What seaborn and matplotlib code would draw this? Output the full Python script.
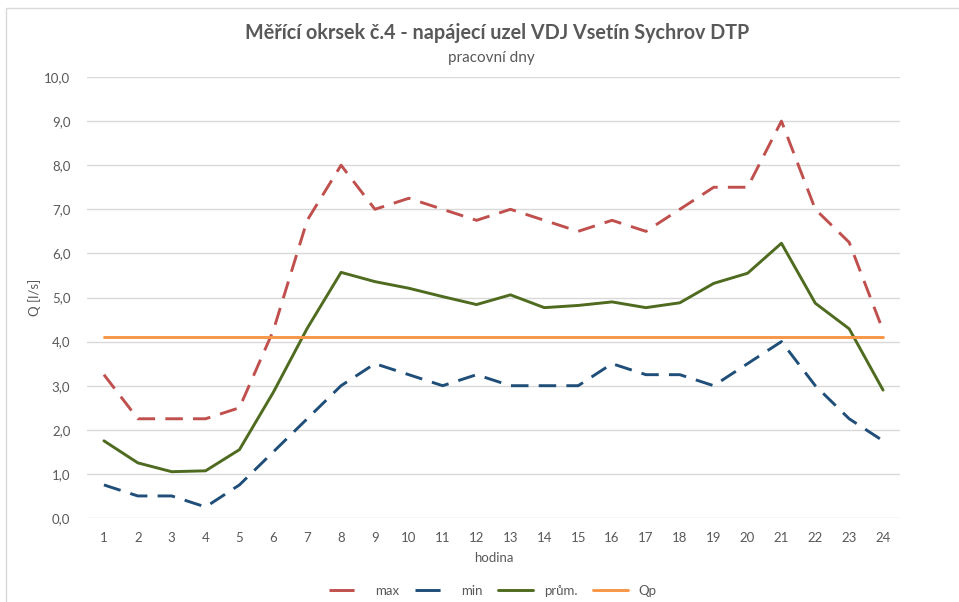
import matplotlib
matplotlib.use("Agg")
import matplotlib.pyplot as plt
import seaborn as sns
import pandas as pd
from matplotlib.patches import Rectangle
from matplotlib.ticker import FuncFormatter

hours = list(range(1, 25))
max_vals = [3.25, 2.25, 2.25, 2.25, 2.5, 4.25, 6.75, 8.0, 7.0, 7.25, 7.0, 6.75,
            7.0, 6.75, 6.5, 6.75, 6.5, 7.0, 7.5, 7.5, 9.0, 7.0, 6.25, 4.25]
min_vals = [0.75, 0.5, 0.5, 0.25, 0.75, 1.5, 2.25, 3.0, 3.5, 3.25, 3.0, 3.25,
            3.0, 3.0, 3.0, 3.5, 3.25, 3.25, 3.0, 3.5, 4.0, 3.0, 2.25, 1.75]
avg_vals = [1.75, 1.25, 1.05, 1.07, 1.55, 2.85, 4.3, 5.57, 5.36, 5.21, 5.02, 4.84,
            5.06, 4.77, 4.82, 4.9, 4.77, 4.88, 5.32, 5.55, 6.23, 4.87, 4.29, 2.9]
qp_vals = [4.1] * 24
series_names = ["max", "min", "prům.", "Qp"]
y_ticks = [0, 1, 2, 3, 4, 5, 6, 7, 8, 9, 10]

sns.set_theme(style="white")
plt.rcParams['font.family'] = ['Lato', 'DejaVu Sans']

df = pd.DataFrame({
    "hodina": hours * 4,
    "Q": max_vals + min_vals + avg_vals + qp_vals,
    "serie": [series_names[0]] * 24 + [series_names[1]] * 24 + [series_names[2]] * 24 + [series_names[3]] * 24,
})

palette = {"max": "#C0504D", "min": "#1F4E79", "prům.": "#4E6B1F", "Qp": "#F79646"}
dashes = {"max": (6, 3.5), "min": (6, 3.5), "prům.": "", "Qp": ""}

fig = plt.figure(figsize=(9.59, 6.02), dpi=100)
ax = fig.add_axes([87 / 959, 1 - 518 / 602, (900 - 87) / 959, (518 - 77) / 602])

sns.lineplot(data=df, x="hodina", y="Q", hue="serie", style="serie",
             palette=palette, dashes=dashes, linewidth=2.1, ax=ax,
             hue_order=series_names, style_order=series_names)

ax.set_xlim(0.5, 24.5)
ax.set_ylim(0, 10)
ax.set_xticks(hours)
ax.set_yticks(y_ticks)
ax.yaxis.set_major_formatter(FuncFormatter(lambda v, p: f"{v:.1f}".replace(".", ",")))
ax.grid(axis="y", color="#D9D9D9", linewidth=1.0)
ax.set_axisbelow(True)
for s in ax.spines.values():
    s.set_visible(False)
ax.tick_params(axis="both", length=0, labelsize=9.5, labelcolor="#595959")
ax.tick_params(axis="x", pad=10)
ax.tick_params(axis="y", pad=12)
ax.set_xlabel("hodina", fontsize=9.5, color="#595959", labelpad=6)
ax.set_ylabel("Q [l/s]", fontsize=9.5, color="#595959", labelpad=2)

leg = ax.legend(loc="upper center", ncol=4, frameon=False, fontsize=9.5,
                handlelength=2.7, columnspacing=1.15, handletextpad=0.8)
leg.set_bbox_to_anchor(((493 - 87) / (900 - 87), -0.125), transform=ax.transAxes)
for i, ln in enumerate(leg.get_lines()):
    if i < 2:
        ln.set_dashes((8.6, 20))
for t in leg.get_texts():
    t.set_color("#595959")

fig.text(497 / 959, 1 - 33 / 602, "Měřící okrsek č.4 - napájecí uzel VDJ Vsetín Sychrov DTP",
         ha="center", va="center", fontsize=14.2, fontweight="bold", color="#595959")
fig.text(491 / 959, 1 - 58 / 602, "pracovní dny", ha="center", va="center", fontsize=11,
         color="#595959")

fig.patches.append(Rectangle((6 / 959, -0.1), 1.2, 1 - 8 / 602 + 0.1, transform=fig.transFigure,
                             fill=False, edgecolor="#D9D9D9", linewidth=1.0))

fig.savefig("out.png", dpi=100)
